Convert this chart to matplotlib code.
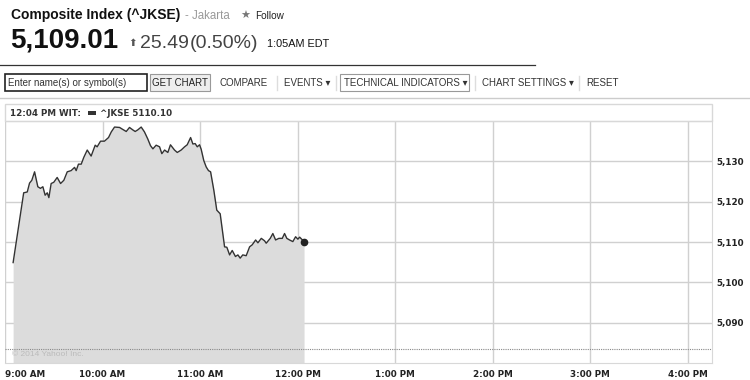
import matplotlib
matplotlib.use("Agg")
import matplotlib.pyplot as plt
from matplotlib.patches import Rectangle

# minutes after 9:00 AM (WIT) and ^JKSE index level
minutes = [5, 11.5, 13.7, 15.1, 16.5, 18.2, 20.2, 21.8, 23.3, 24.7, 26, 27, 28.4, 30,
           32.1, 34.2, 36.2, 38.3, 40.7, 42.8, 43.8, 45.2, 46.9, 48.5, 50.6, 53, 55.5,
           56.7, 58.8, 61.2, 63.7, 65.4, 67.4, 70.5, 72.5, 74.6, 76.6, 78.6, 80.1, 81.7,
           83.8, 85.8, 87.9, 89.5, 91, 93, 95.1, 96.5, 98.2, 100.2, 101.8, 104.3, 106,
           108.4, 110.5, 112.1, 114.2, 115.6, 117, 118.3, 119.7, 120.7, 122.3, 123.8,
           125.2, 126.5, 128.5, 130.3, 132.4, 135.1, 136.5, 138.2, 139.8, 141.8, 143.3,
           144.7, 146.3, 148.4, 150.5, 152.1, 154.2, 155.6, 157.7, 159.7, 160.7, 163.2,
           164.8, 166.5, 168.5, 170.6, 172, 173.4, 175.1, 177.1, 178.8, 180.2, 181.3, 184]
values = [5104.9, 5122.2, 5122.4, 5124.6, 5125.3, 5127.4, 5123.7, 5123.3, 5123.7, 5121.6,
          5122.2, 5121.0, 5124.5, 5124.8, 5126.0, 5124.5, 5125.3, 5127.4, 5127.7, 5128.5,
          5127.7, 5129.3, 5129.3, 5131.0, 5132.8, 5131.3, 5134.0, 5133.6, 5135.0, 5135.0,
          5135.9, 5137.3, 5138.5, 5138.4, 5137.9, 5137.4, 5138.4, 5137.8, 5137.4, 5137.8,
          5138.5, 5137.3, 5135.5, 5133.9, 5133.1, 5134.0, 5133.6, 5131.9, 5132.8, 5132.2,
          5134.1, 5132.8, 5132.2, 5132.8, 5133.6, 5134.1, 5135.9, 5134.3, 5134.4, 5133.6,
          5134.1, 5133.0, 5130.2, 5128.6, 5127.7, 5127.4, 5122.8, 5117.9, 5117.0, 5108.8,
          5108.7, 5106.8, 5107.9, 5106.4, 5106.8, 5106.0, 5106.8, 5106.6, 5108.8, 5109.3,
          5110.5, 5109.8, 5110.9, 5110.3, 5109.7, 5110.9, 5112.1, 5110.5, 5110.9, 5110.9,
          5112.1, 5110.9, 5110.5, 5110.1, 5111.3, 5110.7, 5111.2, 5110.1]
prev_close = 5083.52

hour_ticks = [0, 60, 120, 180, 240, 300, 360, 420]
hour_labels = ["9:00 AM", "10:00 AM", "11:00 AM", "12:00 PM",
               "1:00 PM", "2:00 PM", "3:00 PM", "4:00 PM"]
level_ticks = [5090, 5100, 5110, 5120, 5130]
level_labels = ["5,090", "5,100", "5,110", "5,120", "5,130"]

W, H = 750, 380
fig = plt.figure(figsize=(W / 100, H / 100), dpi=100)
fig.patch.set_facecolor("white")


def fx(px):
    return px / W


def fy(py):
    return 1 - py / H


hdr = ["Liberation Sans", "DejaVu Sans"]
vfont = "DejaVu Sans"

# --- quote header ---
fig.text(fx(11), fy(19), "Composite Index (^JKSE)", family=hdr, fontsize=10,
         weight="bold", color="#111")
fig.text(fx(185), fy(19), "- Jakarta", family=hdr, fontsize=8.3, color="#999")
fig.text(fx(240), fy(19), "★", family="DejaVu Sans", fontsize=8, color="#777")
fig.text(fx(255), fy(19), "Follow", family=hdr, fontsize=7.2, color="#222")
fig.text(fx(10), fy(48), "5,109.01", family=hdr, fontsize=20, weight="bold", color="#111")
fig.text(fx(128), fy(46.5), "⬆", family="DejaVu Sans", fontsize=7.5, color="#555")
fig.text(fx(140), fy(48), "25.49", family=hdr, fontsize=14, color="#444")
fig.text(fx(190), fy(48), "(0.50%)", family=hdr, fontsize=14, color="#444")
fig.text(fx(267), fy(47), "1:05AM EDT", family=hdr, fontsize=7.8, color="#111")

# --- toolbar ---
fig.add_artist(plt.Line2D([0, fx(535)], [fy(64.5), fy(64.5)], color="#333", lw=0.9))
fig.add_artist(plt.Line2D([0, 1], [fy(98), fy(98)], color="#ccc", lw=1))
fig.add_artist(Rectangle((fx(5), fy(91)), fx(142), 17 / H, fill=False,
                         ec="#222", lw=1.2))
fig.text(fx(8), fy(83), "Enter name(s) or symbol(s)", family=hdr, fontsize=7,
         color="#333", va="center")
fig.add_artist(Rectangle((fx(150), fy(91)), fx(60), 17 / H, fc="#eee",
                         ec="#999", lw=0.8))
fig.text(fx(180), fy(83), "GET CHART", family=hdr, fontsize=7, color="#222",
         va="center", ha="center")
fig.text(fx(219), fy(83), "COMPARE", family=hdr, fontsize=7, color="#333", va="center")
fig.text(fx(284), fy(83), "EVENTS ▾", family=hdr, fontsize=7, color="#333", va="center")
fig.add_artist(Rectangle((fx(340), fy(91)), fx(129), 17 / H, fill=False,
                         ec="#999", lw=0.8))
fig.text(fx(344), fy(83), "TECHNICAL INDICATORS ▾", family=hdr, fontsize=7,
         color="#333", va="center")
fig.text(fx(482), fy(83), "CHART SETTINGS ▾", family=hdr, fontsize=7, color="#333",
         va="center")
fig.text(fx(586), fy(83), "RESET", family=hdr, fontsize=7, color="#333", va="center")
for sx in (277, 336, 475, 579):
    fig.add_artist(plt.Line2D([fx(sx), fx(sx)], [fy(76), fy(90)], color="#ddd", lw=1))

# --- legend strip ---
fig.add_artist(Rectangle((fx(5), fy(121)), fx(707), 17 / H, fill=False,
                         ec="#d8d8d8", lw=1))
fig.text(fx(10), fy(113), "12:04 PM WIT:", family=vfont, fontsize=6.3, weight="bold",
         color="#333", va="center")
fig.add_artist(Rectangle((fx(88), fy(115)), fx(8), 4 / H, fc="#333", ec="none"))
fig.text(fx(100), fy(113), "^JKSE 5110.10", family=vfont, fontsize=6.3, weight="bold",
         color="#333", va="center")

# --- price chart ---
ax = fig.add_axes([fx(5), fy(363), fx(707), (363 - 121) / H])
ax.set_xlim(0, 435)
ax.set_ylim(5080, 5140)
ax.fill_between(minutes, values, 5080, color="#dcdcdc", lw=0, zorder=1)
ax.plot(minutes, values, color="#333", lw=1, zorder=3)
ax.plot(minutes[-1], values[-1], "o", color="#222", ms=4.5, zorder=4)
ax.axhline(prev_close, color="#888", lw=0.8, ls=(0, (1, 1)), zorder=2)

ax.set_xticks(hour_ticks)
ax.set_xticklabels(hour_labels)
ax.set_yticks(level_ticks)
ax.set_yticklabels(level_labels)
ax.yaxis.tick_right()
ax.grid(color="#d0d0d0", lw=1, zorder=0)
ax.set_axisbelow(True)
ax.tick_params(axis="x", length=0, labelsize=6.3, labelcolor="#222", pad=5)
ax.tick_params(axis="y", length=0, labelsize=6.3, labelcolor="#222", pad=3)
for lab in ax.get_xticklabels() + ax.get_yticklabels():
    lab.set_family(vfont)
    lab.set_weight("bold")
ax.get_xticklabels()[0].set_horizontalalignment("left")
for s in ax.spines.values():
    s.set_color("#d8d8d8")
ax.spines["left"].set_visible(False)

ax.text(0.01, 0.03, "© 2014 Yahoo! Inc.", transform=ax.transAxes, fontsize=6,
        family=hdr, color="#bbb", zorder=5)

fig.savefig("out.png", dpi=100)
